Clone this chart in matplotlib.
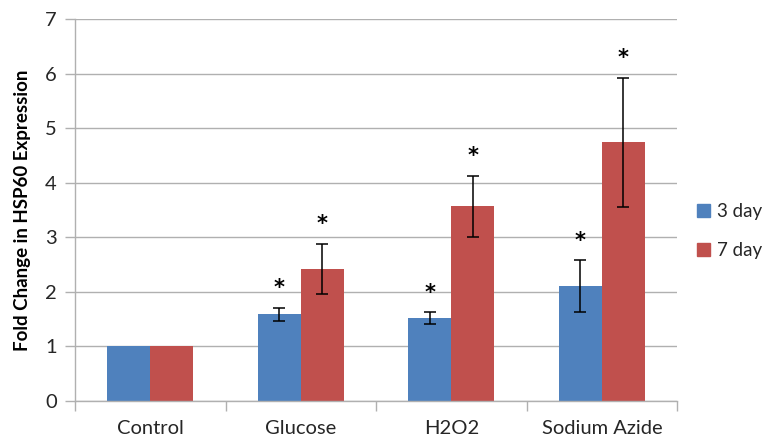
import numpy as np
import matplotlib
matplotlib.use("Agg")
import matplotlib.pyplot as plt
from matplotlib.patches import Patch

plt.rcParams["font.family"] = ["Lato", "DejaVu Sans"]

# Data
categories = ["Control", "Glucose", "H2O2", "Sodium Azide"]
day3 = [1.0, 1.59, 1.52, 2.11]
day3_err = [0.0, 0.12, 0.11, 0.47]
day7 = [1.0, 2.42, 3.57, 4.74]
day7_err = [0.0, 0.46, 0.56, 1.18]
day3_star = [False, True, True, True]
day7_star = [False, True, True, True]

blue = "#4F81BD"
red = "#C0504D"
grid_c = "#B0B0B0"
text_c = "#262626"

fig = plt.figure(figsize=(7.71, 4.44), dpi=100)
ax = fig.add_axes([0.0973, 0.0968, 0.781, 0.8604])

x = np.arange(len(categories))
w = 0.285
ekw = dict(ecolor="black", elinewidth=1.1, capsize=4.5, capthick=1.1)

b3 = ax.bar(x - w/2, day3, w, color=blue, zorder=2)
b7 = ax.bar(x + w/2, day7, w, color=red, zorder=2)
for xs, vals, errs in [(x - w/2, day3, day3_err), (x + w/2, day7, day7_err)]:
    m = np.array(errs) > 0
    ax.errorbar(xs[m], np.array(vals)[m], yerr=np.array(errs)[m], fmt="none", zorder=3, **ekw)

# significance asterisks
for xs, vals, errs, stars in [(x - w/2, day3, day3_err, day3_star), (x + w/2, day7, day7_err, day7_star)]:
    for xi, v, e, s in zip(xs, vals, errs, stars):
        if s:
            ax.annotate("*", (xi, v + e), xytext=(0, 14), textcoords="offset points",
                        ha="center", va="center", fontsize=15, fontweight="bold",
                        family="DejaVu Sans", color="black")

ax.set_xlim(-0.5, len(categories) - 0.5)
ax.set_ylim(0, 7)
ax.set_yticks(range(0, 8))
ax.yaxis.grid(True, color=grid_c, linewidth=1.0, zorder=0)
ax.set_axisbelow(True)

ax.set_xticks(x)
ax.set_xticklabels(categories)
ax.set_xticks(np.arange(-0.5, len(categories)), minor=True)
ax.tick_params(axis="x", which="major", length=0, pad=14, labelsize=14.5, labelcolor=text_c)
ax.tick_params(axis="x", which="minor", length=7, color=grid_c, width=1)
ax.tick_params(axis="y", length=7, color=grid_c, width=1, labelsize=14.5, labelcolor=text_c, pad=6)

for side in ["top", "right"]:
    ax.spines[side].set_visible(False)
for side in ["left", "bottom"]:
    ax.spines[side].set_color(grid_c)
    ax.spines[side].set_linewidth(1.0)

ax.set_ylabel("Fold Change in HSP60 Expression", fontsize=13.5, fontweight="bold", color="black", labelpad=10)

handles = [Patch(color=blue, label="3 day"), Patch(color=red, label="7 day")]
fig.legend(handles=handles, loc="center left", bbox_to_anchor=(0.899, 0.48), frameon=False,
           fontsize=13.5, handlelength=0.7, handleheight=0.7, handletextpad=0.35, labelspacing=1.2,
           labelcolor=text_c, borderpad=0.2, borderaxespad=0.0)

fig.savefig("out.png", dpi=100)
